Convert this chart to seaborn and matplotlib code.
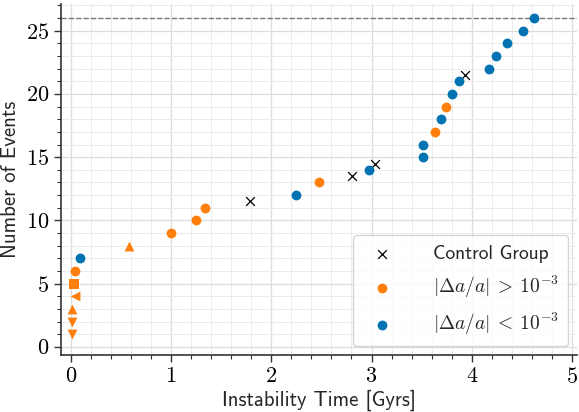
import numpy as np
import seaborn as sns
import matplotlib.pyplot as plt
from matplotlib.ticker import MultipleLocator, FuncFormatter

# values
control_time = [1.79, 2.81, 3.03, 3.93]
control_events = [11.5, 13.5, 14.5, 21.5]

high_time = [0.04, 1.00, 1.25, 1.34, 2.48, 3.63, 3.74]
high_events = [6, 9, 10, 11, 13, 17, 19]

low_time = [0.09, 2.25, 2.98, 3.51, 3.51, 3.69, 3.80, 3.87, 4.17, 4.24, 4.35, 4.51, 4.62]
low_events = [7, 12, 14, 15, 16, 18, 20, 21, 22, 23, 24, 25, 26]

# extra "large change" runs drawn with their own marker shapes
odd_time = [0.03, 0.04, 0.01, 0.01, 0.01, 0.58]
odd_events = [5, 4, 3, 2, 1, 8]
odd_markers = ['s', '<', '^', 'v', 'v', '^']

total_events = 26

sns.set_theme(style="whitegrid")
plt.rcParams['mathtext.fontset'] = 'cm'
plt.rcParams['font.family'] = ['cmss10', 'DejaVu Sans']
plt.rcParams['axes.unicode_minus'] = False

blue = '#0173b2'
orange = '#ff7f0e'

fig, ax = plt.subplots(figsize=(5.79, 4.12), dpi=100)
fig.subplots_adjust(left=0.105, right=0.9965, top=0.99, bottom=0.138)

ax.axhline(total_events, color='#777777', ls='--', lw=1.0, zorder=1)

sns.scatterplot(x=control_time, y=control_events, marker='x', color='black',
                s=40, linewidth=0.9, label='Control Group', ax=ax, zorder=3)
sns.scatterplot(x=high_time, y=high_events, marker='o', color=orange,
                s=50, linewidth=0, label=r'$|\Delta a/a| \:>\: 10^{-3}$', ax=ax, zorder=3)
sns.scatterplot(x=low_time, y=low_events, marker='o', color=blue,
                s=50, linewidth=0, label=r'$|\Delta a/a| \:<\: 10^{-3}$', ax=ax, zorder=3)
for t, n, m in zip(odd_time, odd_events, odd_markers):
    sns.scatterplot(x=[t], y=[n], marker=m, color=orange, s=50, linewidth=0,
                    ax=ax, zorder=3, legend=False)

ax.set_xlim(-0.1, 5.05)
ax.set_ylim(-0.65, 27.1)
ax.xaxis.set_major_locator(MultipleLocator(1))
ax.xaxis.set_minor_locator(MultipleLocator(0.2))
ax.yaxis.set_major_locator(MultipleLocator(5))
ax.yaxis.set_minor_locator(MultipleLocator(1))
fmt = FuncFormatter(lambda v, p: f'${v:g}$')
ax.xaxis.set_major_formatter(fmt)
ax.yaxis.set_major_formatter(fmt)

ax.grid(which='major', color='#dddddd', lw=0.9)
ax.grid(which='minor', color='#ebebeb', lw=0.7)
ax.set_axisbelow(True)

for s in ['top', 'right']:
    ax.spines[s].set_visible(False)
for s in ['left', 'bottom']:
    ax.spines[s].set_color('#333333')
    ax.spines[s].set_linewidth(1.2)

ax.tick_params(which='both', left=True, bottom=True, colors='#333333', labelcolor='black')
ax.tick_params(which='major', length=5, width=1, labelsize=16)
ax.tick_params(which='minor', length=3, width=0.8)

ax.set_xlabel('Instability Time [Gyrs]', fontsize=15, labelpad=2)
ax.set_ylabel('Number of Events', fontsize=15, labelpad=4)

leg = ax.legend(loc='lower right', fontsize=14, frameon=True, handletextpad=1.6,
                borderpad=0.5, labelspacing=0.55, borderaxespad=0.45)
leg.get_frame().set_edgecolor('#cccccc')

fig.savefig('out.png', dpi=100)
